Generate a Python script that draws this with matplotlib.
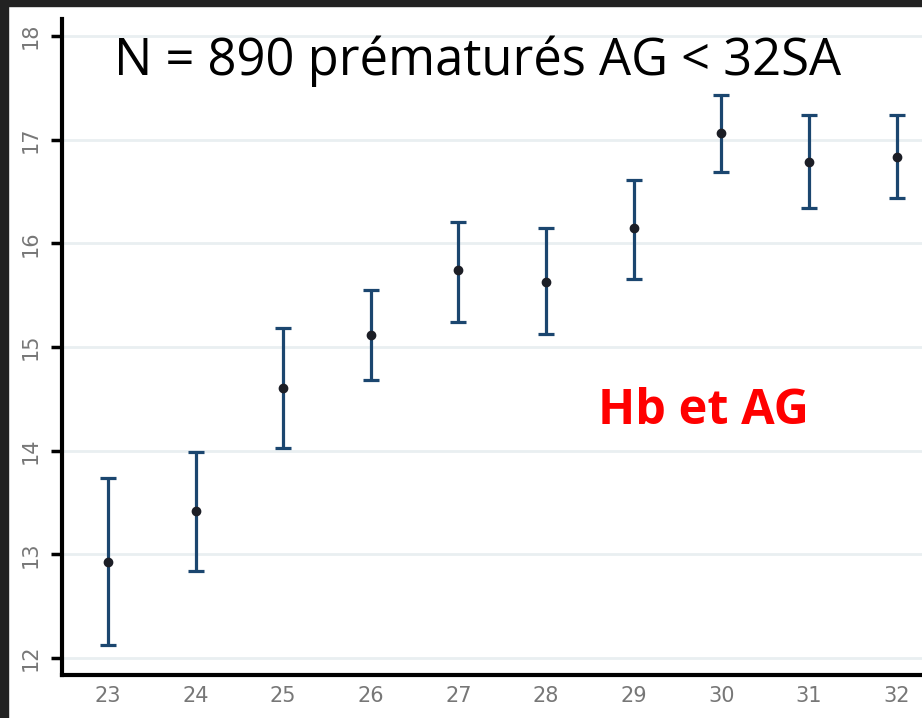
import matplotlib.pyplot as plt
from matplotlib.patches import Rectangle

ages = [23, 24, 25, 26, 27, 28, 29, 30, 31, 32]
hb = [12.93, 13.42, 14.60, 15.12, 15.74, 15.63, 16.15, 17.06, 16.78, 16.83]
hb_haut = [13.74, 13.99, 15.18, 15.55, 16.21, 16.15, 16.61, 17.43, 17.24, 17.24]
hb_bas = [12.13, 12.84, 14.03, 14.68, 15.24, 15.13, 15.66, 16.69, 16.34, 16.44]
yticks = [12, 13, 14, 15, 16, 17, 18]

err_bas = [h - b for h, b in zip(hb, hb_bas)]
err_haut = [u - h for h, u in zip(hb, hb_haut)]

fig = plt.figure(figsize=(9.22, 7.18), dpi=100)
ax = fig.add_axes([62 / 922, 43 / 718, 1 - 62 / 922, 656 / 718])

# cadre sombre en haut et à gauche
fig.patches.append(Rectangle((0, 0), 8 / 922, 1, transform=fig.transFigure, color='#222222', zorder=10))
fig.patches.append(Rectangle((0, 1 - 6 / 718), 1, 6 / 718, transform=fig.transFigure, color='#222222', zorder=10))

for y in yticks:
    ax.axhline(y, color='#e9eff1', lw=2, zorder=0)

ax.errorbar(ages, hb, yerr=[err_bas, err_haut], fmt='none', ecolor='#1b466f',
            elinewidth=2.3, capsize=6, capthick=2.3, zorder=2)
ax.plot(ages, hb, 'o', color='#1c1e26', ms=6, zorder=3)

ax.set_xlim(22.475, 32.29)
ax.set_ylim(11.836, 18.164)
ax.set_xticks(ages)
ax.set_yticks(yticks)
ax.set_xticklabels([str(a) for a in ages], color='#777777', fontsize=15)
ax.set_yticklabels([str(y) for y in yticks], color='#777777', fontsize=15, rotation=90, va='center')
ax.tick_params(axis='x', length=0, pad=8)
ax.tick_params(axis='y', length=8, width=2.5, color='black', pad=7)

for s in ['top', 'right']:
    ax.spines[s].set_visible(False)
ax.spines['left'].set_linewidth(3)
ax.spines['bottom'].set_linewidth(3)

fig.text(478 / 922, 1 - 61 / 718, 'N = 890 prématurés AG < 32SA', fontsize=36.5,
         family='Open Sans', ha='center', va='center', color='black')
fig.text(703 / 922, 1 - 411 / 718, 'Hb et AG', fontsize=35, family='Open Sans',
         fontweight='bold', ha='center', va='center', color='#ff0000')

fig.savefig('out.png', dpi=100)
